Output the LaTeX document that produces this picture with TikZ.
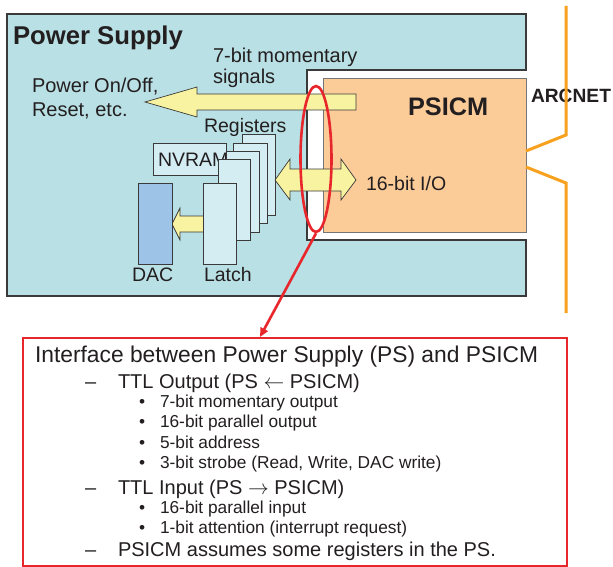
\documentclass[tikz,border=0pt]{standalone}
\usepackage{fontspec}
\setmainfont{Liberation Sans}
\usetikzlibrary{shapes.geometric,arrows.meta}
\definecolor{psC}{HTML}{B9E0E4}
\definecolor{regC}{HTML}{D3EDF3}
\definecolor{dacC}{HTML}{9DC4E6}
\definecolor{psicmC}{HTML}{FBCB98}
\definecolor{yelC}{HTML}{F8F3A0}
\definecolor{orC}{HTML}{F7A11E}
\definecolor{redC}{HTML}{E8272C}
\definecolor{lineC}{HTML}{3A3A3A}
\definecolor{txtC}{HTML}{231F20}
\newcommand\myfs[1]{\fontsize{#1}{#1}\selectfont}
\begin{document}
\begin{tikzpicture}[x=1pt,y=-1pt,
  blk/.style={draw=lineC,line width=0.9pt,inner sep=0pt,outer sep=0pt,anchor=north west},
  reg/.style={blk,fill=regC},
  fat/.style={fill=yelC,draw=lineC,line width=0.7pt,line join=miter},
  lbl/.style={inner sep=0pt,outer sep=0pt,anchor=base west,text=txtC},
  orline/.style={draw=orC,line width=3pt},
  redline/.style={draw=redC,line width=2.6pt}]
\useasboundingbox (0,0) rectangle (613,567);
\fill[white] (0,0) rectangle (613,567);
% Power supply C-shape
\draw[fill=psC,draw=lineC,line width=1.2pt] (526,14) -- (7,14) -- (7,296) -- (526,296)
  -- (526,240) -- (307,240) -- (307,70) -- (526,70) -- cycle;
% PSICM
\node[blk,fill=psicmC,draw=lineC!70,line width=0.8pt,minimum width=203pt,minimum height=154pt] (psicm) at (323,78) {};
% 7-bit momentary arrow
\draw[fat] (356,94) -- (197,94) -- (197,87) -- (145,102) -- (197,117) -- (197,110) -- (356,110) -- cycle;
% NVRAM
\node[reg,minimum width=73pt,minimum height=32pt] (nvram) at (153,143) {};
\node[lbl,font=\myfs{19.5}] at (158,167) {NVRAM};
% Latch -> DAC arrow
\draw[fat] (204,216) -- (180,216) -- (180,208) -- (172,224) -- (180,240) -- (180,232) -- (204,232) -- cycle;
% DAC
\node[blk,fill=dacC,minimum width=34pt,minimum height=81pt] (dac) at (138,183) {};
% register stack
\node[reg,minimum width=33pt,minimum height=81pt] (r1) at (242,134) {};
\node[reg,minimum width=34pt,minimum height=80pt] (r2) at (233,143) {};
\node[reg,minimum width=33pt,minimum height=81pt] (r3) at (226,151) {};
\node[reg,minimum width=32pt,minimum height=81pt] (r4) at (218,159) {};
\node[reg,minimum width=33pt,minimum height=81pt] (latch) at (203,183) {};
% 16-bit I/O double arrow
\draw[fat] (275,180) -- (290,159) -- (290,169) -- (341,169) -- (341,159) -- (356,180)
  -- (341,200) -- (341,191) -- (290,191) -- (290,200) -- cycle;
% labels
\node[lbl,font=\myfs{25.7}\bfseries] (pstitle) at (13,45) {Power Supply};
\node[lbl,font=\myfs{20}] (mom1) at (213,63) {7-bit momentary};
\node[lbl,font=\myfs{20}] (mom2) at (213,84) {signals};
\node[lbl,font=\myfs{20}] (pow1) at (32,93) {Power On/Off,};
\node[lbl,font=\myfs{20}] (pow2) at (32,117) {Reset, etc.};
\node[lbl,font=\myfs{19.5}] (regs) at (204,133) {Registers};
\node[lbl,font=\myfs{19.5}] (daclbl) at (132,281) {DAC};
\node[lbl,font=\myfs{19.5}] (latchlbl) at (204,281) {Latch};
\node[lbl,font=\myfs{19.5}] (iolbl) at (366,190) {16-bit I/O};
\node[lbl,font=\myfs{25.3}\bfseries] (psicmlbl) at (408,116) {PSICM};
\node[lbl,font=\myfs{19.2}\bfseries] (arcnet) at (531,103) {ARCNET};
% ARCNET line
\coordinate (a1) at (566,6);
\coordinate (a2) at (566,135);
\coordinate (a3) at (526,151);
\coordinate (a4) at (526,167);
\coordinate (a5) at (566,183);
\coordinate (a6) at (566,313);
\draw[orline] (a1) -- (a2) -- (a3);
\draw[orline] (a4) -- (a5) -- (a6);
% info box
\node[draw=redC,line width=2.4pt,anchor=north west,inner sep=0pt,outer sep=0pt,
  minimum width=544pt,minimum height=228pt] (info) at (23,338) {};
% red ellipse and connector
\node[ellipse,redline,minimum width=31pt,minimum height=146pt,inner sep=0pt] (ell) at (316,159) {};
\coordinate (tip) at (260,337);
\draw[redline,-{Triangle[length=9pt,width=8pt]}] (ell.south) -- (tip);
% info text
\node[lbl,font=\myfs{22.8}] at (35,362) {Interface between Power Supply (PS) and PSICM};
\begin{scope}[every node/.style={lbl,font=\myfs{20}}]
\node at (85,388) {–}; \node at (118,388) {TTL Output (PS $\leftarrow$ PSICM)};
\node at (85,494) {–}; \node at (118,494) {TTL Input (PS $\rightarrow$ PSICM)};
\node at (85,556) {–}; \node at (118,556) {PSICM assumes some registers in the PS.};
\end{scope}
\begin{scope}[every node/.style={lbl,font=\myfs{17.3}}]
\node at (139,407) {•}; \node at (160,407) {7-bit momentary output};
\node at (139,427) {•}; \node at (160,427) {16-bit parallel output};
\node at (139,448) {•}; \node at (160,448) {5-bit address};
\node at (139,468) {•}; \node at (160,468) {3-bit strobe (Read, Write, DAC write)};
\node at (139,513) {•}; \node at (160,513) {16-bit parallel input};
\node at (139,533) {•}; \node at (160,533) {1-bit attention (interrupt request)};
\end{scope}
\end{tikzpicture}
\end{document}
